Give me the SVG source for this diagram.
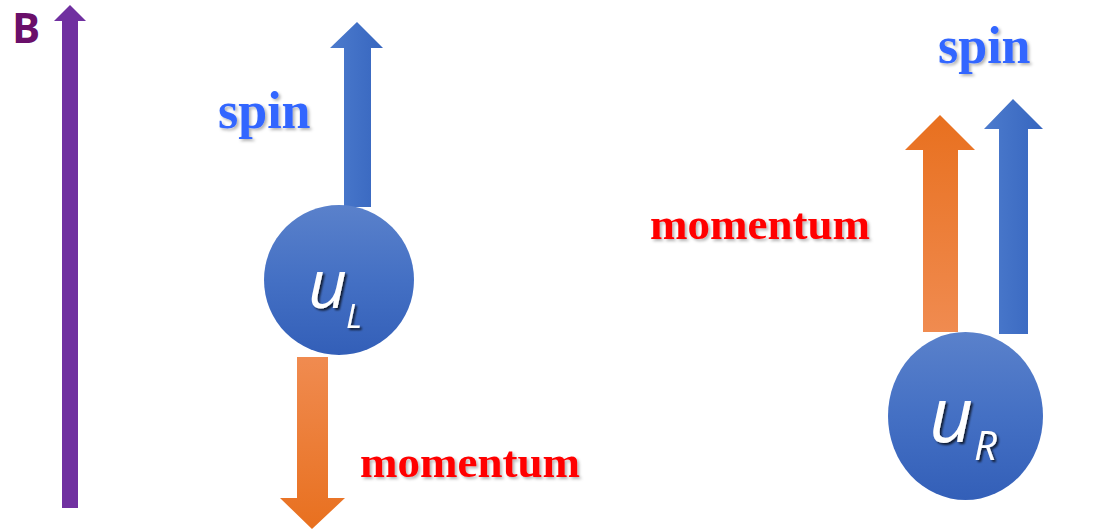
<svg xmlns="http://www.w3.org/2000/svg" width="1107" height="531" viewBox="0 0 1107 531">
<defs>
<linearGradient id="gBall" x1="0" y1="0" x2="0" y2="1"><stop offset="0" stop-color="#5A81CB"/><stop offset="0.5" stop-color="#4470C4"/><stop offset="1" stop-color="#335FB8"/></linearGradient>
<linearGradient id="gBlue" x1="0" y1="0" x2="1" y2="0"><stop offset="0" stop-color="#4C7BCD"/><stop offset="1" stop-color="#3766BF"/></linearGradient>
<linearGradient id="gOrDown" x1="0" y1="0" x2="0" y2="1"><stop offset="0" stop-color="#F08B50"/><stop offset="1" stop-color="#E8701F"/></linearGradient>
<linearGradient id="gOrUp" x1="0" y1="1" x2="0" y2="0"><stop offset="0" stop-color="#F08B50"/><stop offset="1" stop-color="#E8701F"/></linearGradient>
<filter id="soft" x="-10%" y="-20%" width="130%" height="150%"><feDropShadow dx="2" dy="2" stdDeviation="1.5" flood-color="#000" flood-opacity="0.3"/></filter>
<filter id="hard" x="-20%" y="-20%" width="150%" height="150%"><feDropShadow dx="2" dy="2" stdDeviation="1" flood-color="#000" flood-opacity="0.75"/></filter>
</defs>
<style>
.lbl{font-family:"Liberation Serif","Times New Roman",serif;font-weight:bold;filter:url(#soft)}
.spin{fill:#3366FF;font-size:52px}
.mom{fill:#FF0000;font-size:45px}
.u{font-family:"Open Sans","Noto Sans",sans-serif;font-style:italic;font-weight:500;fill:#FFFFFF;filter:url(#hard)}
</style>
<g id="B-field">
<polygon points="70,5 86,21 78,21 78,508 62,508 62,21 54,21" fill="#7030A0"/>
<text x="12" y="43" font-family="'Open Sans','Noto Sans',sans-serif" font-weight="bold" font-size="42" fill="#6A0F6A">B</text>
</g>
<g id="connectors">
<polygon id="spinL" points="357,22 383,48 371,48 371,207 344,207 344,48 330,48" fill="url(#gBlue)"/>
<polygon id="momL" points="297,357 328,357 328,498 345,498 312,529 280,498 297,498" fill="url(#gOrDown)"/>
<polygon id="momR" points="940,115 975,150 958,150 958,332 923,332 923,150 905,150" fill="url(#gOrUp)"/>
<polygon id="spinR" points="1013,99 1043,129 1028,129 1028,334 999,334 999,129 984,129" fill="url(#gBlue)"/>
</g>
<g id="uL">
<circle cx="339" cy="280" r="75" fill="url(#gBall)"/>
<text class="u" x="308" y="308" font-size="68">u</text>
<text class="u" x="346" y="328" font-size="33">L</text>
</g>
<g id="uR">
<ellipse cx="965.5" cy="416" rx="77.5" ry="84" fill="url(#gBall)"/>
<text class="u" x="929" y="442" font-size="77">u</text>
<text class="u" x="974" y="460" font-size="40">R</text>
</g>
<g id="labels">
<text class="lbl spin" x="218" y="128">spin</text>
<text class="lbl mom" x="360" y="477">momentum</text>
<text class="lbl spin" x="938" y="63">spin</text>
<text class="lbl mom" x="650" y="239">momentum</text>
</g>
</svg>
